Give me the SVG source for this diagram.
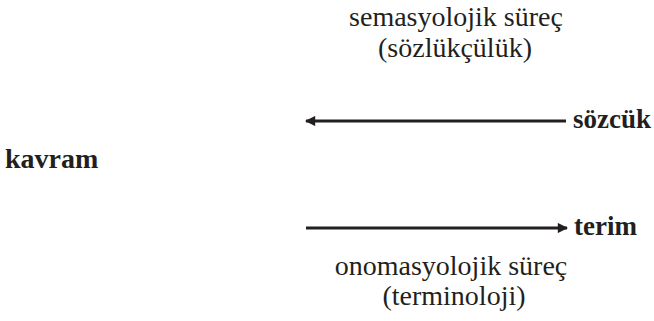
<svg xmlns="http://www.w3.org/2000/svg" width="654" height="321" viewBox="0 0 654 321">
<style>
.r{font-family:"Liberation Serif","Times New Roman",serif;font-size:28px;fill:#231f20;text-anchor:middle}
.b{font-family:"Liberation Serif","Times New Roman",serif;font-size:27px;font-weight:bold;fill:#231f20}
.ln{stroke:#231f20;stroke-width:3;fill:none}
</style>
<defs>
<marker id="ah" viewBox="0 0 10 10" refX="9" refY="5" markerWidth="4.2" markerHeight="3.4" orient="auto-start-reverse" markerUnits="strokeWidth">
<path d="M0,0 L10,5 L0,10 Z" fill="#231f20"/>
</marker>
</defs>
<rect width="654" height="321" fill="#fff"/>
<g id="connectors">
<line class="ln" x1="566" y1="121" x2="306" y2="121" marker-end="url(#ah)"/>
<line class="ln" x1="306" y1="228" x2="567" y2="228" marker-end="url(#ah)"/>
</g>
<g id="semasyolojik"><text class="r" x="456" y="26">semasyolojik süreç</text><text class="r" x="455" y="57">(sözlükçülük)</text></g>
<g id="sozcuk"><text class="b" x="573" y="128">sözcük</text></g>
<g id="kavram"><text class="b" x="5" y="168" style="font-size:28px">kavram</text></g>
<g id="terim"><text class="b" x="574" y="235">terim</text></g>
<g id="onomasyolojik"><text class="r" x="451" y="275">onomasyolojik süreç</text><text class="r" x="454" y="305">(terminoloji)</text></g>
</svg>
